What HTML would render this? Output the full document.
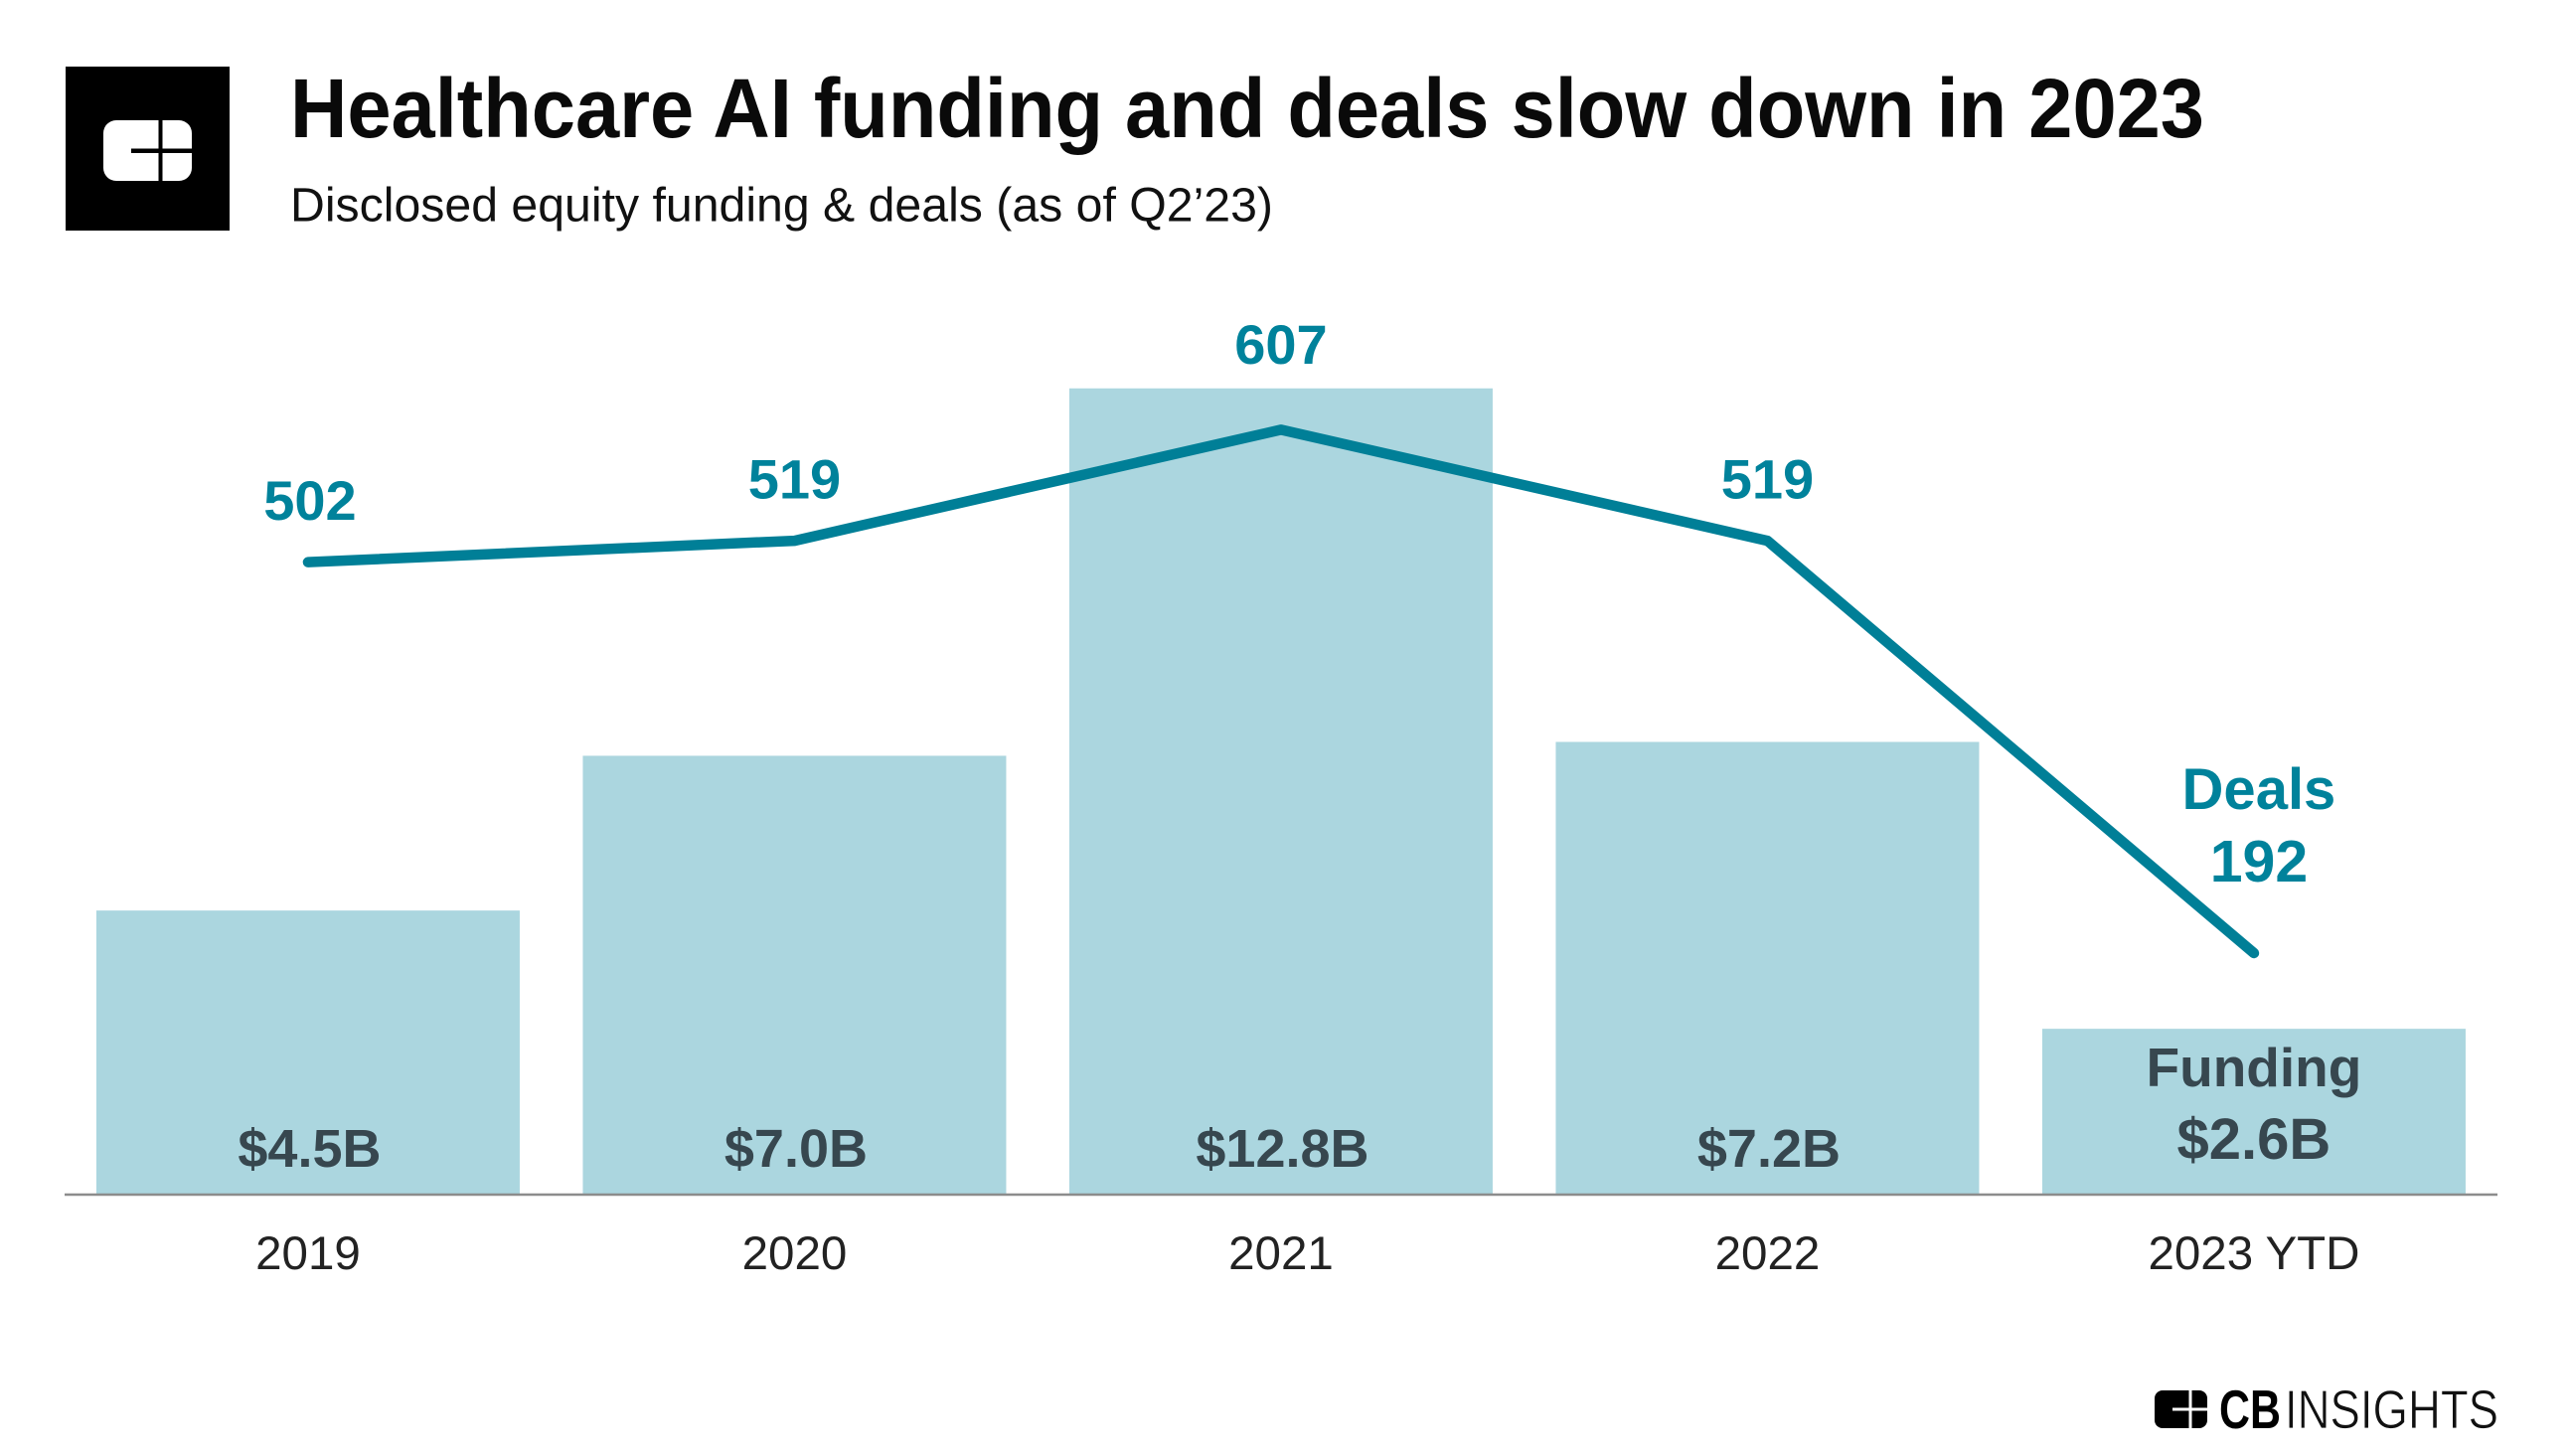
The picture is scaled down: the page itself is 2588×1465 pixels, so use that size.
<!DOCTYPE html>
<html lang="en">
<head>
<meta charset="utf-8">
<title>Healthcare AI funding and deals slow down in 2023</title>
<style>
  html, body { margin: 0; padding: 0; background: #fff; }
  body { width: 2588px; height: 1465px; overflow: hidden; }
  svg { display: block; font-family: "Liberation Sans", Arial, sans-serif; }
</style>
</head>
<body>
<svg id="chart" width="2588" height="1465" viewBox="0 0 2588 1465" xmlns="http://www.w3.org/2000/svg">
  <rect x="0" y="0" width="2588" height="1465" fill="#ffffff"/>
  <g>
    <rect x="66" y="67" width="165" height="165" fill="#000000"/>
    <rect x="104" y="121" width="89" height="61" rx="13" fill="#ffffff"/>
    <rect x="132" y="149.5" width="61" height="4.5" fill="#000000"/>
    <rect x="159.5" y="121" width="4" height="61" fill="#000000"/>
  </g>
  <text x="292" y="138" font-size="84" font-weight="700" fill="#0a0a0a" textLength="1926" lengthAdjust="spacingAndGlyphs">Healthcare AI funding and deals slow down in 2023</text>
  <text x="292" y="222.5" font-size="48" fill="#111111" textLength="989" lengthAdjust="spacingAndGlyphs">Disclosed equity funding &amp; deals (as of Q2’23)</text>
  <g id="bars"></g>
  <line x1="65" x2="2513" y1="1202" y2="1202" stroke="#8c8c8c" stroke-width="2.5"/>
  <g id="line"></g>
  <g id="labels"></g>
  <g>
    <rect x="2168" y="1399" width="53" height="38" rx="8" fill="#000000"/>
    <rect x="2186" y="1416.5" width="35" height="3" fill="#ffffff"/>
    <rect x="2202.5" y="1399" width="3" height="38" fill="#ffffff"/>
    <text x="2233" y="1437" font-size="55" font-weight="700" fill="#000000" textLength="62" lengthAdjust="spacingAndGlyphs">CB</text>
    <text x="2299" y="1437" font-size="55" fill="#111111" stroke="#ffffff" stroke-width="0.8" textLength="215" lengthAdjust="spacingAndGlyphs">INSIGHTS</text>
  </g>
</svg>
<script>
const categories = ['2019', '2020', '2021', '2022', '2023 YTD'];
const fundingValues = [4.5, 6.96, 12.8, 7.18, 2.62];
const dealValues = [502, 519, 607, 519, 192];

const NS = 'http://www.w3.org/2000/svg';
const BASELINE = 1201;
const PLOT_LEFT = 65.2;
const BAND = 489.5;
const BAR_WIDTH = 426;
const xCenter = i => PLOT_LEFT + BAND * (i + 0.5);
const yFunding = v => BASELINE - v * 63.3;
const yDeals = v => 432.4 + (607 - v) * 1.269;

const barsGroup = document.getElementById('bars');
const lineGroup = document.getElementById('line');
const labelsGroup = document.getElementById('labels');

function makeText(x, y, size, weight, fill, content) {
  const t = document.createElementNS(NS, 'text');
  t.setAttribute('x', x);
  t.setAttribute('y', y);
  t.setAttribute('font-size', size);
  t.setAttribute('font-weight', weight);
  t.setAttribute('fill', fill);
  t.setAttribute('text-anchor', 'middle');
  t.textContent = content;
  labelsGroup.appendChild(t);
  return t;
}

fundingValues.forEach((v, i) => {
  const top = yFunding(v);
  const bar = document.createElementNS(NS, 'rect');
  
  
  bar.setAttribute('x', xCenter(i) - BAR_WIDTH / 2);
  bar.setAttribute('y', top);
  bar.setAttribute('width', BAR_WIDTH);
  bar.setAttribute('height', BASELINE - top);
  bar.setAttribute('fill', '#abd6df');
  barsGroup.appendChild(bar);
});

const deals = document.createElementNS(NS, 'polyline');


deals.setAttribute('points', dealValues.map((v, i) => xCenter(i) + ',' + yDeals(v)).join(' '));
deals.setAttribute('fill', 'none');
deals.setAttribute('stroke', '#007f97');
deals.setAttribute('stroke-width', '10.5');
deals.setAttribute('stroke-linecap', 'round');
deals.setAttribute('stroke-linejoin', 'round');
lineGroup.appendChild(deals);

const TEAL = '#00829b';
const SLATE = '#37474f';
const lastIndex = categories.length - 1;

categories.forEach((c, i) => {
  const axisLabel = makeText(xCenter(i), 1277, 47.5, 400, '#222222', c);
  
  

  const fundingText = '$' + fundingValues[i].toFixed(1) + 'B';
  const dealText = String(dealValues[i]);

  if (i === lastIndex) {
    const fundingName = makeText(xCenter(i), 1093, 55, 700, SLATE, 'Funding');
    
    

    const fundingValue = makeText(xCenter(i), 1166, 58, 700, SLATE, fundingText);
    
    

    const dealsName = makeText(xCenter(i) + 5, yDeals(dealValues[i]) - 145, 58, 700, TEAL, 'Deals');
    
    

    const dealValue = makeText(xCenter(i) + 5, yDeals(dealValues[i]) - 72, 59, 700, TEAL, dealText);
    
    
  } else {
    const fundingValue = makeText(xCenter(i) + 1.5, 1174, 54, 700, SLATE, fundingText);
    
    

    const isPeak = dealValues[i] === Math.max(...dealValues);
    const labelY = isPeak ? yFunding(fundingValues[i]) - 25 : yDeals(dealValues[i]) - 42.5;
    const dealValue = makeText(xCenter(i) + (i === 0 ? 2 : 0), labelY, 56, 700, TEAL, dealText);
    
    
  }
});
</script>
</body>
</html>
